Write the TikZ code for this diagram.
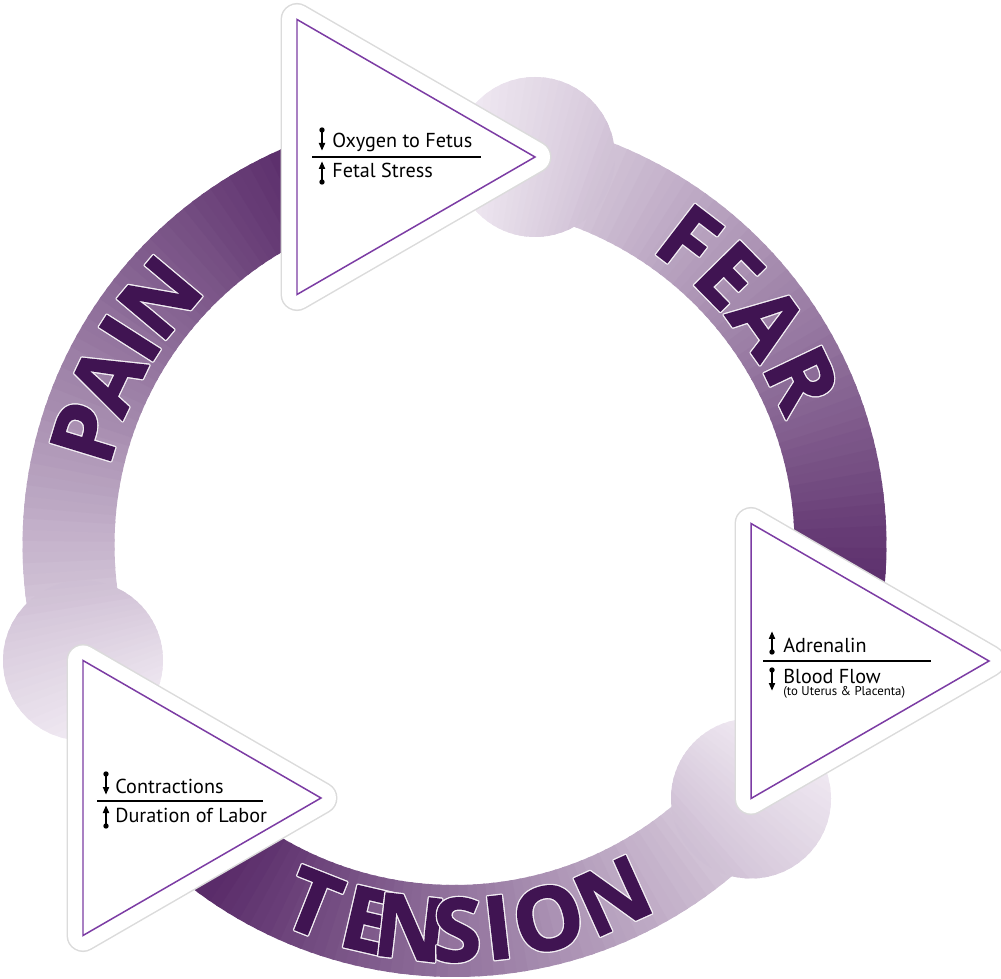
\documentclass[tikz,border=0pt]{standalone}
\usepackage{fontspec}
\newfontfamily\labelfont{PT Sans}
\newfontfamily\ringfont{Open Sans}[BoldFeatures={FakeBold=1.6}]
\usetikzlibrary{calc}

\definecolor{ringlight}{RGB}{243,237,245}
\definecolor{ringdark}{RGB}{90,44,106}
\definecolor{letterpurple}{RGB}{64,20,82}
\definecolor{tripurple}{RGB}{124,60,164}

\begin{document}
\begin{tikzpicture}[x=0.02cm,y=0.02cm,
  ring letter/.style={font=\ringfont\bfseries\fontsize{50}{50}\selectfont,text=letterpurple,inner sep=0pt},
  letter halo/.style={ring letter,text=white!92!ringdark},
  tri edge/.style={draw=black!14,line width=0.66cm,line join=round},
  tri border/.style={draw=white,line width=0.6cm,line join=round},
  tri face/.style={fill=white,draw=tripurple,line width=0.85pt},
  row/.style={font=\labelfont\fontsize{11.5}{12}\selectfont,anchor=base west,inner sep=0pt},
  small row/.style={row,font=\labelfont\fontsize{7.3}{8}\selectfont},
  rule/.style={line width=0.8pt},
  rise/.pic={\draw[line width=1pt] (0,-9)--(0,5); \fill (0,-9) circle (2.7); \fill (-3.3,4)--(3.3,4)--(0,11.5)--cycle;},
  fall/.pic={\draw[line width=1pt] (0,9)--(0,-5); \fill (0,9) circle (2.7); \fill (-3.3,-4)--(3.3,-4)--(0,-11.5)--cycle;}]
  \useasboundingbox (0,0) rectangle (1001,978);
  \coordinate (C) at (454.5,433);
  % left-middle points of the three boxes
  \coordinate (fetus) at (297,821);
  \coordinate (adren) at (751,317);
  \coordinate (labor) at (83,180);
  \coordinate (topbulb) at ($(fetus)+(238,0)$);
  \coordinate (rightbulb) at ($(adren)+(0,-137.5)$);
  \coordinate (leftbulb) at ($(labor)+(0,137.5)$);

  % ring: three arcs, light at the start, dark at the end
  \foreach \s/\e in {78.3/-40.5,-40.5/-162.7,197.3/78.3}
    \foreach \i in {0,...,79} {
      \pgfmathsetmacro\aa{\s-\i*(\s-\e)/80}
      \pgfmathsetmacro\ab{\aa-(\s-\e)/80-0.5}
      \pgfmathtruncatemacro\p{min(100,(\s-\aa+12)*1.05)}
      \fill[fill=ringdark!\p!ringlight] ($(C)+(\aa:432)$) arc[start angle=\aa,end angle=\ab,radius=432]
        -- ($(C)+(\ab:340)$) arc[start angle=\ab,end angle=\aa,radius=340] -- cycle;
    }
  % round heads where each arc starts
  \foreach \b/\s in {topbulb/78.3,rightbulb/-40.5,leftbulb/197.3} {
    \begin{scope}
      \clip (\b) circle (80);
      \foreach \i in {0,...,31} {
        \pgfmathsetmacro\aa{\s+16-\i}
        \pgfmathtruncatemacro\p{max(0,min(100,(\s-\aa+12)*1.05))}
        \fill[fill=ringdark!\p!ringlight] (C) -- ($(C)+(\aa:520)$) arc[start angle=\aa,end angle=\aa-1.5,radius=520] -- cycle;
      }
    \end{scope}
  }

  % boxes
  \foreach \t in {fetus,adren,labor} {
    \draw[tri edge] ($(\t)+(0,137.5)$) -- ($(\t)+(238,0)$) -- ($(\t)+(0,-137.5)$) -- cycle;
    \draw[tri border] ($(\t)+(0,137.5)$) -- ($(\t)+(238,0)$) -- ($(\t)+(0,-137.5)$) -- cycle;
    \draw[tri face] ($(\t)+(0,137.5)$) -- ($(\t)+(238,0)$) -- ($(\t)+(0,-137.5)$) -- cycle;
  }

  % top box
  \draw[rule] ($(fetus)+(15,0)$) -- ($(fetus)+(184,0)$);
  \pic at ($(fetus)+(25,18)$) {fall};
  \node[row] (oxygen) at ($(fetus)+(35,9)$) {Oxygen to Fetus};
  \pic at ($(fetus)+(25,-16)$) {rise};
  \node[row] (stress) at ($(fetus)+(35,-21)$) {Fetal Stress};

  % right box
  \draw[rule] ($(adren)+(12,0)$) -- ($(adren)+(180,0)$);
  \pic at ($(adren)+(21,18)$) {rise};
  \node[row] (adrenalin) at ($(adren)+(32,8)$) {Adrenalin};
  \pic at ($(adren)+(21,-18)$) {fall};
  \node[row] (blood) at ($(adren)+(32,-22)$) {Blood Flow};
  \node[small row] (uterus) at ($(adren)+(32,-34)$) {(to Uterus \& Placenta)};

  % left box
  \draw[rule] ($(labor)+(14,-3)$) -- ($(labor)+(180,-3)$);
  \pic at ($(labor)+(23,15)$) {fall};
  \node[row] (contract) at ($(labor)+(32,5)$) {Contractions};
  \pic at ($(labor)+(23,-19)$) {rise};
  \node[row] (duration) at ($(labor)+(32,-24)$) {Duration of Labor};

  % words on the ring, one letter at a time
  \foreach \ch/\a/\r [count=\n] in {P/163/-90,A/154.5/-90,I/147.5/-90,N/140/-90,
      F/52.5/-90,E/44.5/-90,A/35.5/-90,R/25.5/-90,
      T/-111.6/90,E/-103.1/90,N/-96.6/90,S/-89.6/90,I/-83.5/90,O/-75.9/90,N/-65.7/90} {
    \foreach \k in {0,45,...,315}
      \node[letter halo,rotate=\a+\r] (h\n-\k) at ($(C)+(\a:385)+(\k:0.75pt)$) {\ch};
    \node[ring letter,rotate=\a+\r] (w\n) at ($(C)+(\a:385)$) {\ch};
  }
\end{tikzpicture}
\end{document}
